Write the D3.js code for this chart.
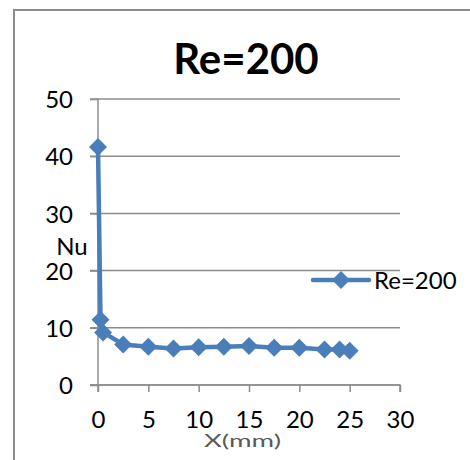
<!DOCTYPE html>
<html>
<head>
    <script src="https://d3js.org/d3.v7.min.js"></script>
    <style>
        body { margin: 0; background: #fff; }
        svg { display: block; }
        text { font-family: Lato, "Noto Sans", sans-serif; fill: #000; }
    </style>
</head>
<body>
    <svg></svg>
    <script>
        // datos
        const title = "Re=200";
        const seriesName = "Re=200";
        const xValues = [0, 0.25, 0.5, 2.5, 5, 7.5, 10, 12.5, 15, 17.5, 20, 22.5, 24, 25];
        const nuValues = [41.6, 11.4, 9.2, 7.1, 6.7, 6.4, 6.6, 6.7, 6.8, 6.5, 6.5, 6.2, 6.2, 6.0];
        const xTicks = [0, 5, 10, 15, 20, 25, 30];
        const yTicks = [0, 10, 20, 30, 40, 50];

        const width = 470, height = 460;
        const color = "#4a7ebb";

        const svg = d3.select("svg")
            .attr("width", width)
            .attr("height", height);

        // marco del gráfico
        svg.append("rect")
            .attr("x", 14).attr("y", 10)
            .attr("width", 500).attr("height", 500)
            .attr("fill", "none")
            .attr("stroke", "#8c8c8c")
            .attr("stroke-width", 2);

        const x = d3.scaleLinear().domain([0, 30]).range([98, 400]);
        const y = d3.scaleLinear().domain([0, 50]).range([385, 99]);

        // líneas de cuadrícula
        svg.append("g")
            .selectAll("line")
            .data(yTicks)
            .join("line")
            .attr("x1", 90).attr("x2", 400)
            .attr("y1", d => y(d)).attr("y2", d => y(d))
            .attr("stroke", "#8c8c8c")
            .attr("stroke-width", 1.5);

        // ejes
        const xAxis = svg.append("g")
            .attr("transform", `translate(0,${y(0)})`)
            .call(d3.axisBottom(x).tickValues(xTicks).tickSize(7).tickPadding(19));
        const yAxis = svg.append("g")
            .attr("transform", `translate(${x(0)},0)`)
            .call(d3.axisLeft(y).tickValues(yTicks).tickSize(8).tickPadding(17));

        [xAxis, yAxis].forEach(g => {
            g.select(".domain").attr("stroke", "#8c8c8c").attr("stroke-width", 1.5);
            g.selectAll(".tick line").attr("stroke", "#8c8c8c").attr("stroke-width", 1.5);
            g.selectAll(".tick text")
                .attr("font-family", "Lato, sans-serif")
                .attr("font-size", 24)
                .attr("fill", "#000");
        });
        yAxis.selectAll(".tick text").attr("dy", "0.36em");
        // el eje x no tiene línea de dominio con extremos
        xAxis.select(".domain").attr("d", `M90,0H${x(30)}V7`);
        yAxis.select(".domain").attr("d", `M0,${y(50)}V${y(0) + 7}`);

        // títulos
        svg.append("text")
            .attr("x", 246).attr("y", 74)
            .attr("text-anchor", "middle")
            .attr("font-size", 42)
            .attr("font-weight", "bold")
            .text(title);

        svg.append("text")
            .attr("x", 72).attr("y", 255)
            .attr("text-anchor", "middle")
            .attr("font-size", 24)
            .text("Nu");

        svg.append("text")
            .attr("x", 204).attr("y", 447)
            .attr("font-family", "DejaVu Sans, sans-serif")
            .attr("font-size", 17)
            .attr("textLength", 77)
            .attr("lengthAdjust", "spacingAndGlyphs")
            .style("fill", "#595959")
            .text("X(mm)");

        // serie
        const data = xValues.map((v, i) => ({ x: v, y: nuValues[i] }));
        const diamond = s => `M0,${-s}L${s},0L0,${s}L${-s},0Z`;

        svg.append("path")
            .datum(data)
            .attr("fill", "none")
            .attr("stroke", color)
            .attr("stroke-width", 4.5)
            .attr("stroke-linejoin", "round")
            .attr("d", d3.line().x(d => x(d.x)).y(d => y(d.y)));

        svg.append("g")
            .selectAll("path")
            .data(data)
            .join("path")
            .attr("transform", d => `translate(${x(d.x)},${y(d.y)})`)
            .attr("d", diamond(9))
            .attr("fill", color);

        // leyenda
        const legend = svg.append("g").attr("transform", "translate(313,280)");
        legend.append("line")
            .attr("x1", 0).attr("x2", 56)
            .attr("stroke", color)
            .attr("stroke-width", 4.5)
            .attr("stroke-linecap", "round");
        legend.append("path")
            .attr("transform", "translate(28,0)")
            .attr("d", diamond(9))
            .attr("fill", color);
        legend.append("text")
            .attr("x", 61).attr("y", 0)
            .attr("dy", "0.36em")
            .attr("font-size", 24)
            .text(seriesName);
    </script>
</body>
</html>
